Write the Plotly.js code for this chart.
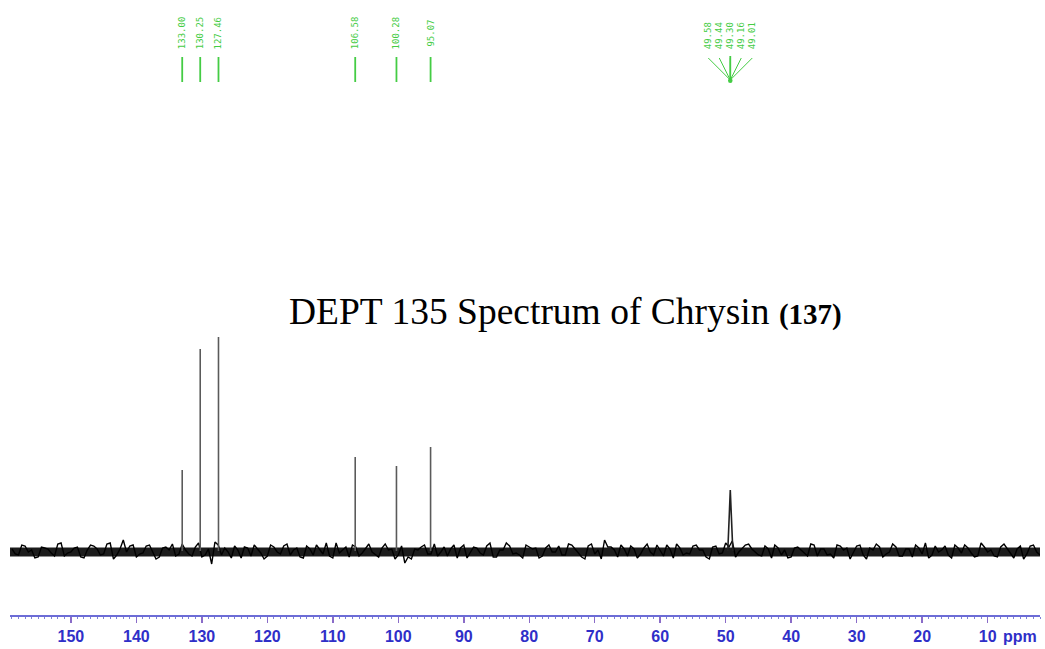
<!DOCTYPE html>
<html>
<head>
<meta charset="utf-8">
<script src="https://cdn.plot.ly/plotly-3.0.1.min.js"></script>
<style>html,body{margin:0;padding:0;background:#fff;}#chart{width:1045px;height:649px;}</style>
</head>
<body>
<div id="chart"></div>
<script>
// ---- data ----
const peakPpm    = [133.00, 130.25, 127.46, 106.58, 100.28, 95.07];
const peakHeight = [81, 202, 214, 94, 85, 104];
const peakLabels = ["133.00", "130.25", "127.46", "106.58", "100.28", "95.07"];

const solventPpm    = [49.58, 49.44, 49.30, 49.16, 49.01];
const solventHeight = [12, 38, 61, 36, 10];
const solventLabels = ["49.58", "49.44", "49.30", "49.16", "49.01"];

const tickVals = [150, 140, 130, 120, 110, 100, 90, 80, 70, 60, 50, 40, 30, 20, 10];
const tickText = ["150", "140", "130", "120", "110", "100", "90", "80", "70", "60", "50", "40", "30", "20", "10"];

// baseline noise, integer ppm (159 ... 2)
const noiseA = [
 2,-4,5,1,-6,3,-2,7,-5,-1,4,-7,6,2,-3,8,-4,11,5,-6,
 -2,6,-8,3,1,-5,7,-3,4,-6,2,9,-4,-1,5,-7,3,6,-2,-5,
 4,-3,7,1,-6,5,-4,2,8,-7,-2,4,6,-5,3,-1,-6,7,2,-4,
 -12,-8,1,6,-3,-5,4,2,-7,6,-1,3,-4,8,-6,1,5,-2,-7,4,
 3,-5,6,-1,-4,7,2,-6,5,-3,-8,4,1,6,-5,2,-3,7,-4,0,
 6,-7,3,-2,5,1,-6,4,-3,8,10,-1,6,2,-4,5,-7,3,1,-6,
 4,-2,7,-5,2,-3,6,1,-8,5,-4,3,7,-6,-1,4,-5,2,6,-3,
 -7,5,1,-4,6,-2,3,-6,8,-1,-5,4,2,-7,5,-3,6,-4
];
// baseline noise, half ppm (158.5 ... 2.5)
const noiseB = [
 -3,6,-1,-7,4,2,-5,8,-2,3,-6,1,5,-4,7,-8,2,-1,6,-3,
 5,-2,-6,4,7,-3,1,-5,8,-4,-13,6,3,-7,1,4,-5,2,-8,6,
 -1,5,-4,3,-7,2,6,-3,-5,8,1,-6,4,-2,7,-4,3,1,-8,5,
 -6,2,4,-3,7,-1,-5,6,3,-7,4,-2,5,-6,1,8,-3,-4,6,2,
 -7,3,-1,5,-4,6,-2,-8,7,1,11,4,-6,2,5,-7,3,-1,6,-5,
 2,7,-4,-3,6,1,-8,5,-2,4,-6,3,7,-1,-5,2,6,-4,-7,3,
 1,-5,6,2,-4,-7,5,3,-2,6,-8,1,4,-3,7,-5,2,-6,3,8,
 -4,-1,5,-7,3,6,-2,-5,4,1,-6,7,-3,2,-8,5,-1
];
const noiseStart = 159;

// ---- build traces ----
const nx = [], ny = [];
for (let i = 0; i < noiseA.length; i++) {
  nx.push(noiseStart - i); ny.push(noiseA[i]);
  if (i < noiseB.length) { nx.push(noiseStart - i - 0.5); ny.push(noiseB[i]); }
}

const px = [], py = [];
peakPpm.forEach((p, i) => { px.push(p, p, null); py.push(0, peakHeight[i], null); });

const sx = [solventPpm[0] + 0.1].concat(solventPpm, [solventPpm[solventPpm.length - 1] - 0.1]);
const sy = [0].concat(solventHeight, [0]);

const xRange = [159.3, 2.0];

const traces = [
  {x: [xRange[0], xRange[1]], y: [-1, -1], mode: 'lines', line: {color: '#1c1c1c', width: 9}, hoverinfo: 'skip'},
  {x: nx, y: ny, mode: 'lines', line: {color: '#000', width: 1.4}, hoverinfo: 'skip'},
  {x: px, y: py, mode: 'lines', line: {color: '#5a5a5a', width: 1.6}, hoverinfo: 'skip'},
  {x: sx, y: sy, mode: 'lines', line: {color: '#222', width: 1.6}, hoverinfo: 'skip'}
];

// ---- peak labels (green) ----
const plotTopPx = 615; // plot height in px
const yp = v => 1 - v / plotTopPx;
const green = '#44cc44';
const annotations = [];
const shapes = [];
peakPpm.forEach((p, i) => {
  annotations.push({x: p, xref: 'x', y: yp(33), yref: 'paper', text: peakLabels[i], textangle: -90,
    showarrow: false, font: {family: 'DejaVu Sans Mono', size: 9, color: green}, xanchor: 'center', yanchor: 'middle'});
  shapes.push({type: 'line', xref: 'x', yref: 'paper', x0: p, x1: p, y0: yp(57), y1: yp(82), line: {color: green, width: 1.8}});
});
const center = solventPpm[2];
const spread = 1.68;
solventPpm.forEach((p, i) => {
  const lx = center + (2 - i) * spread;
  annotations.push({x: lx, xref: 'x', y: yp(36), yref: 'paper', text: solventLabels[i], textangle: -90,
    showarrow: false, font: {family: 'DejaVu Sans Mono', size: 9, color: green}, xanchor: 'center', yanchor: 'middle'});
  shapes.push({type: 'line', xref: 'x', yref: 'paper', x0: lx, x1: center, y0: yp(58), y1: yp(80), line: {color: green, width: 1}});
});
shapes.push({type: 'line', xref: 'x', yref: 'paper', x0: center, x1: center, y0: yp(56), y1: yp(80), line: {color: green, width: 1.8}});
shapes.push({type: 'circle', xref: 'x', yref: 'paper', x0: center + 0.35, x1: center - 0.35, y0: yp(78), y1: yp(83), fillcolor: green, line: {color: green, width: 0}});

// title
annotations.push({xref: 'paper', yref: 'paper', x: 0.539, y: yp(311), xanchor: 'center', yanchor: 'middle',
  text: 'DEPT 135 Spectrum of Chrysin <b><span style="font-size:29px">(137)</span></b>', showarrow: false,
  font: {family: 'Liberation Serif, Times New Roman, serif', size: 37.5, color: '#000'}});
// ppm unit
annotations.push({xref: 'paper', yref: 'paper', x: 0.981, y: -(636 - 615) / plotTopPx, xanchor: 'center', yanchor: 'middle',
  text: '<b>ppm</b>', showarrow: false, font: {family: 'Liberation Sans, Arial, sans-serif', size: 16, color: '#2f2fc8'}});

const layout = {
  width: 1045, height: 649,
  margin: {l: 10, r: 5, t: 0, b: 34},
  paper_bgcolor: '#fff', plot_bgcolor: '#fff',
  showlegend: false,
  xaxis: {
    range: xRange, showgrid: false, zeroline: false,
    showline: true, linecolor: '#6c6cd6', linewidth: 1.5,
    tickmode: 'array', tickvals: tickVals, ticktext: tickText,
    ticks: 'outside', ticklen: 6, tickwidth: 1.5, tickcolor: '#8a6cc8',
    tickfont: {family: 'Liberation Sans, Arial, sans-serif', size: 16, color: '#2f2fc8', weight: 'bold'},
    minor: {tickmode: 'linear', tick0: 0, dtick: 1, ticks: 'outside', ticklen: 2, tickcolor: '#8080d8', tickwidth: 1},
    fixedrange: true
  },
  yaxis: {range: [-64, 551], visible: false, showgrid: false, zeroline: false, fixedrange: true},
  annotations: annotations,
  shapes: shapes
};

Plotly.newPlot('chart', traces, layout, {displayModeBar: false, staticPlot: true});
</script>
</body>
</html>
